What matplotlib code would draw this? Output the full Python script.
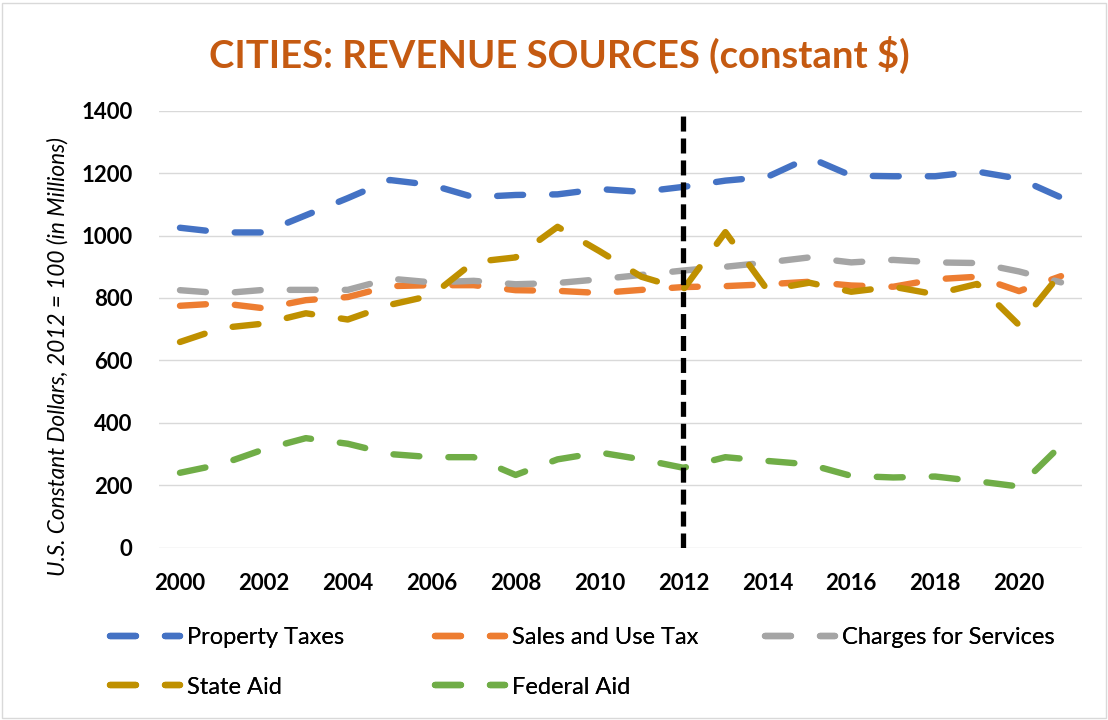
import matplotlib
matplotlib.use("Agg")
import matplotlib.pyplot as plt
from matplotlib.patches import Rectangle

# --- data ---
years = list(range(2000, 2022))
property_taxes = [1025, 1010, 1010, 1065, 1120, 1178, 1162, 1123, 1130, 1132, 1149,
                  1140, 1156, 1176, 1188, 1250, 1192, 1190, 1190, 1205, 1182, 1122]
sales_use_tax = [775, 783, 767, 793, 803, 838, 841, 841, 825, 823, 816,
                 826, 835, 838, 844, 852, 840, 836, 860, 868, 822, 870]
charges_services = [825, 815, 826, 826, 826, 862, 850, 855, 844, 848, 860,
                    874, 888, 900, 914, 930, 914, 922, 914, 912, 885, 850]
state_aid = [659, 704, 718, 751, 731, 778, 808, 915, 930, 1028, 950,
             868, 828, 1011, 826, 849, 820, 836, 812, 845, 713, 880]
federal_aid = [240, 268, 315, 351, 333, 300, 290, 290, 233, 283, 305,
               283, 256, 290, 278, 267, 230, 225, 228, 213, 196, 328]

series_names = ["Property Taxes", "Sales and Use Tax", "Charges for Services",
                "State Aid", "Federal Aid"]
series_colors = ["#4472C4", "#ED7D31", "#A5A5A5", "#BF9000", "#70AD47"]
series_values = [property_taxes, sales_use_tax, charges_services, state_aid, federal_aid]

base_year = 2012
y_ticks = [0, 200, 400, 600, 800, 1000, 1200, 1400]

plt.rcParams["font.family"] = ["Lato", "DejaVu Sans"]
plt.rcParams["lines.scale_dashes"] = False

W, H = 1108, 720
fig = plt.figure(figsize=(W / 100, H / 100), dpi=100)

# chart border
fig.patches.append(Rectangle((2 / W, 2 / H), 1 - 4 / W, 1 - 5 / H, transform=fig.transFigure,
                             fill=False, edgecolor="#D9D9D9", lw=1.0))

left, right, top, bottom = 159, 1082, 110.7, 547.7
ax = fig.add_axes([left / W, 1 - bottom / H, (right - left) / W, (bottom - top) / H])

x = list(range(len(years)))
lines = []
for name, color, vals in zip(series_names, series_colors, series_values):
    ln, = ax.plot(x, vals, color=color, lw=4.6, dashes=(18.7, 20.9),
                  dash_capstyle="round", solid_capstyle="round", label=name, zorder=3)
    lines.append(ln)

# 2012 base-year marker
ax.axvline(years.index(base_year), color="black", lw=3.8, dashes=(10.8, 5.0),
           dash_capstyle="butt", zorder=5)

ax.set_xlim(-0.5, len(years) - 0.5)
ax.set_ylim(0, 1400)
ax.set_yticks(y_ticks)
ax.set_yticklabels([str(v) for v in y_ticks])
ax.set_xticks(x[::2])
ax.set_xticklabels([str(y) for y in years[::2]])
ax.grid(axis="y", color="#D9D9D9", lw=1.0, zorder=0)
ax.set_axisbelow(True)
for s in ax.spines.values():
    s.set_visible(False)
ax.tick_params(axis="both", length=0, labelsize=16)
ax.tick_params(axis="y", pad=19)
ax.tick_params(axis="x", pad=18)
for lab in ax.get_xticklabels() + ax.get_yticklabels():
    lab.set_fontweight("bold")

fig.text(0.505, 1 - 55 / H, "CITIES: REVENUE SOURCES (constant $)", ha="center", va="center",
         fontsize=27.5, fontweight="bold", color="#C55A11")
fig.text(58 / W, 1 - 356 / H, "U.S. Constant Dollars, 2012 = 100 (in Millions)",
         rotation=90, ha="center", va="center", fontsize=16.3, style="italic")

# legend: one entry per slot, Excel-style row layout
slots = [(110, 638), (435, 638), (765, 638), (110, 687), (435, 687)]
fs = 17
for ln, (px, py) in zip(lines, slots):
    leg = fig.legend([ln], [ln.get_label()], loc="center left",
                     bbox_to_anchor=(px / W, 1 - py / H), bbox_transform=fig.transFigure,
                     frameon=False, fontsize=fs, borderpad=0, borderaxespad=0,
                     handlelength=70 / (fs * 100 / 72), handletextpad=0.3)
    fig.add_artist(leg)

fig.savefig("out.png", dpi=100)
